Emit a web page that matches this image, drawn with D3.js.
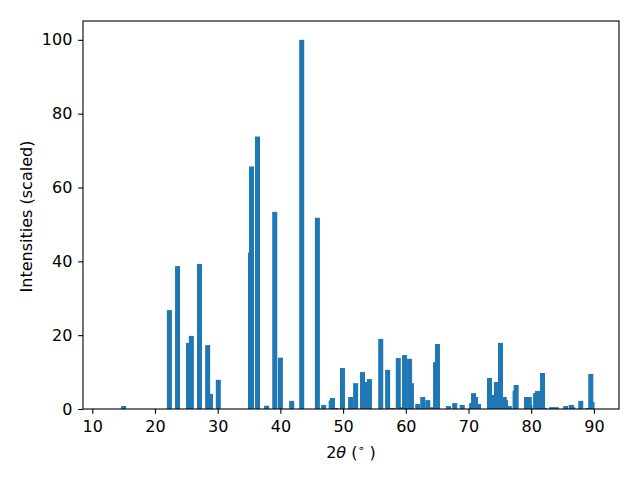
<!DOCTYPE html>
<html>
<head>
<meta charset="utf-8">
<script src="https://cdn.jsdelivr.net/npm/d3@7"></script>
<style>
  body { margin: 0; background: #fff; }
  svg { display: block; }
  text { font-family: "DejaVu Sans", sans-serif; }
</style>
</head>
<body>
<svg id="chart" width="640" height="480"></svg>
<script>
// Peak positions (2θ, degrees)
const twoTheta = [
  15.0, 22.3, 23.6, 25.35, 25.8, 27.1, 28.4, 28.85, 30.1,
  35.23, 35.39, 36.35, 37.8, 39.1, 40.0, 41.8, 43.4,
  45.9, 46.9, 48.1, 48.3, 48.8, 49.9, 51.2, 52.0, 53.1, 53.8, 54.2,
  56.0, 57.1, 57.9, 58.8, 59.3, 59.8, 60.6, 60.9, 61.9, 62.7, 63.5,
  64.3, 64.75, 65.05, 66.8, 67.8, 69.0,
  70.5, 70.8, 71.1, 71.6, 73.35, 73.9, 74.45, 75.1, 75.7, 75.9, 76.5,
  77.43, 77.6, 79.25, 79.7, 79.8, 80.7, 81.0, 81.8, 82.1,
  83.24, 84.0, 85.5, 86.4, 86.6, 87.9, 89.0, 89.5, 89.7
];
// Scaled intensities
const intensity = [
  0.8, 26.8, 38.7, 17.9, 19.8, 39.3, 17.3, 4.1, 7.9,
  42.4, 65.7, 73.8, 0.9, 53.4, 13.9, 2.2, 100,
  51.8, 1.1, 2.3, 3.0, 0.3, 11.1, 3.25, 7.0, 10.0, 7.3, 8.1,
  19.0, 10.6, 0.3, 13.8, 0.5, 14.6, 13.6, 7.0, 1.35, 3.25, 2.4,
  0.5, 12.7, 17.6, 0.8, 1.6, 1.1,
  1.6, 4.3, 3.25, 1.35, 8.4, 3.8, 7.3, 17.9, 3.25, 2.4, 0.8,
  4.9, 6.5, 3.25, 3.25, 1.1, 4.3, 4.9, 9.75, 0.3,
  0.5, 0.5, 0.8, 1.1, 0.5, 2.2, 0.3, 9.5, 1.9
];
const xTicks = [10, 20, 30, 40, 50, 60, 70, 80, 90];
const yTicks = [0, 20, 40, 60, 80, 100];
const xDomain = [8.52, 94.0];
const yDomain = [0, 105.1];
const barWidth = 0.8;
const yLabel = "Intensities (scaled)";

const data = twoTheta.map((t, i) => ({ t, v: intensity[i] }));

const m = { left: 83, right: 619, top: 21, bottom: 409 };
const svg = d3.select("#chart");

const x = d3.scaleLinear().domain(xDomain).range([m.left, m.right]);
const y = d3.scaleLinear().domain(yDomain).range([m.bottom, m.top]);

const fs = 16;
const tick = 4.86;
const FONT = "'DejaVu Sans', sans-serif";

// bars
svg.append("g").selectAll("rect").data(data).join("rect")
  .attr("x", d => x(d.t - barWidth / 2))
  .attr("width", d => x(d.t + barWidth / 2) - x(d.t - barWidth / 2))
  .attr("y", d => y(d.v))
  .attr("height", d => y(0) - y(d.v))
  .attr("fill", "#1f77b4");

// axes
const xAxis = d3.axisBottom(x).tickValues(xTicks).tickSize(tick).tickPadding(6.7).tickSizeOuter(0);
const yAxis = d3.axisLeft(y).tickValues(yTicks).tickSize(tick).tickPadding(5.8).tickSizeOuter(0);

const gx = svg.append("g").attr("transform", `translate(0,${m.bottom})`).call(xAxis);
const gy = svg.append("g").attr("transform", `translate(${m.left},0)`).call(yAxis);
[gx, gy].forEach(g => {
  g.select(".domain").remove();
  g.selectAll(".tick line").attr("stroke", "#000").attr("stroke-width", 1.1);
  g.selectAll(".tick text").attr("fill", "#000").style("font-size", fs + "px")
    .style("font-family", FONT);
});

// frame
svg.append("rect")
  .attr("x", m.left).attr("y", m.top)
  .attr("width", m.right - m.left).attr("height", m.bottom - m.top)
  .attr("fill", "none").attr("stroke", "#000").attr("stroke-width", 1.1);

// x label: 2θ (°) with italic theta and superscript ring
const xl = svg.append("text")
  .attr("x", (m.left + m.right) / 2).attr("y", 457.5)
  .attr("text-anchor", "middle")
  .style("font-size", fs + "px").attr("fill", "#000");
xl.append("tspan").text("2");
xl.append("tspan").style("font-style", "italic").text("θ");
xl.append("tspan").text(" (");
xl.append("tspan").attr("dy", -6).style("font-size", (fs * 0.7) + "px").text("∘");
xl.append("tspan").attr("dy", 6).text(" )");

// y label
svg.append("text")
  .attr("transform", `translate(32,${(m.top + m.bottom) / 2 + 1.5}) rotate(-90)`)
  .attr("text-anchor", "middle")
  .style("font-size", fs + "px").attr("fill", "#000")
  .text(yLabel);
</script>
</body>
</html>
